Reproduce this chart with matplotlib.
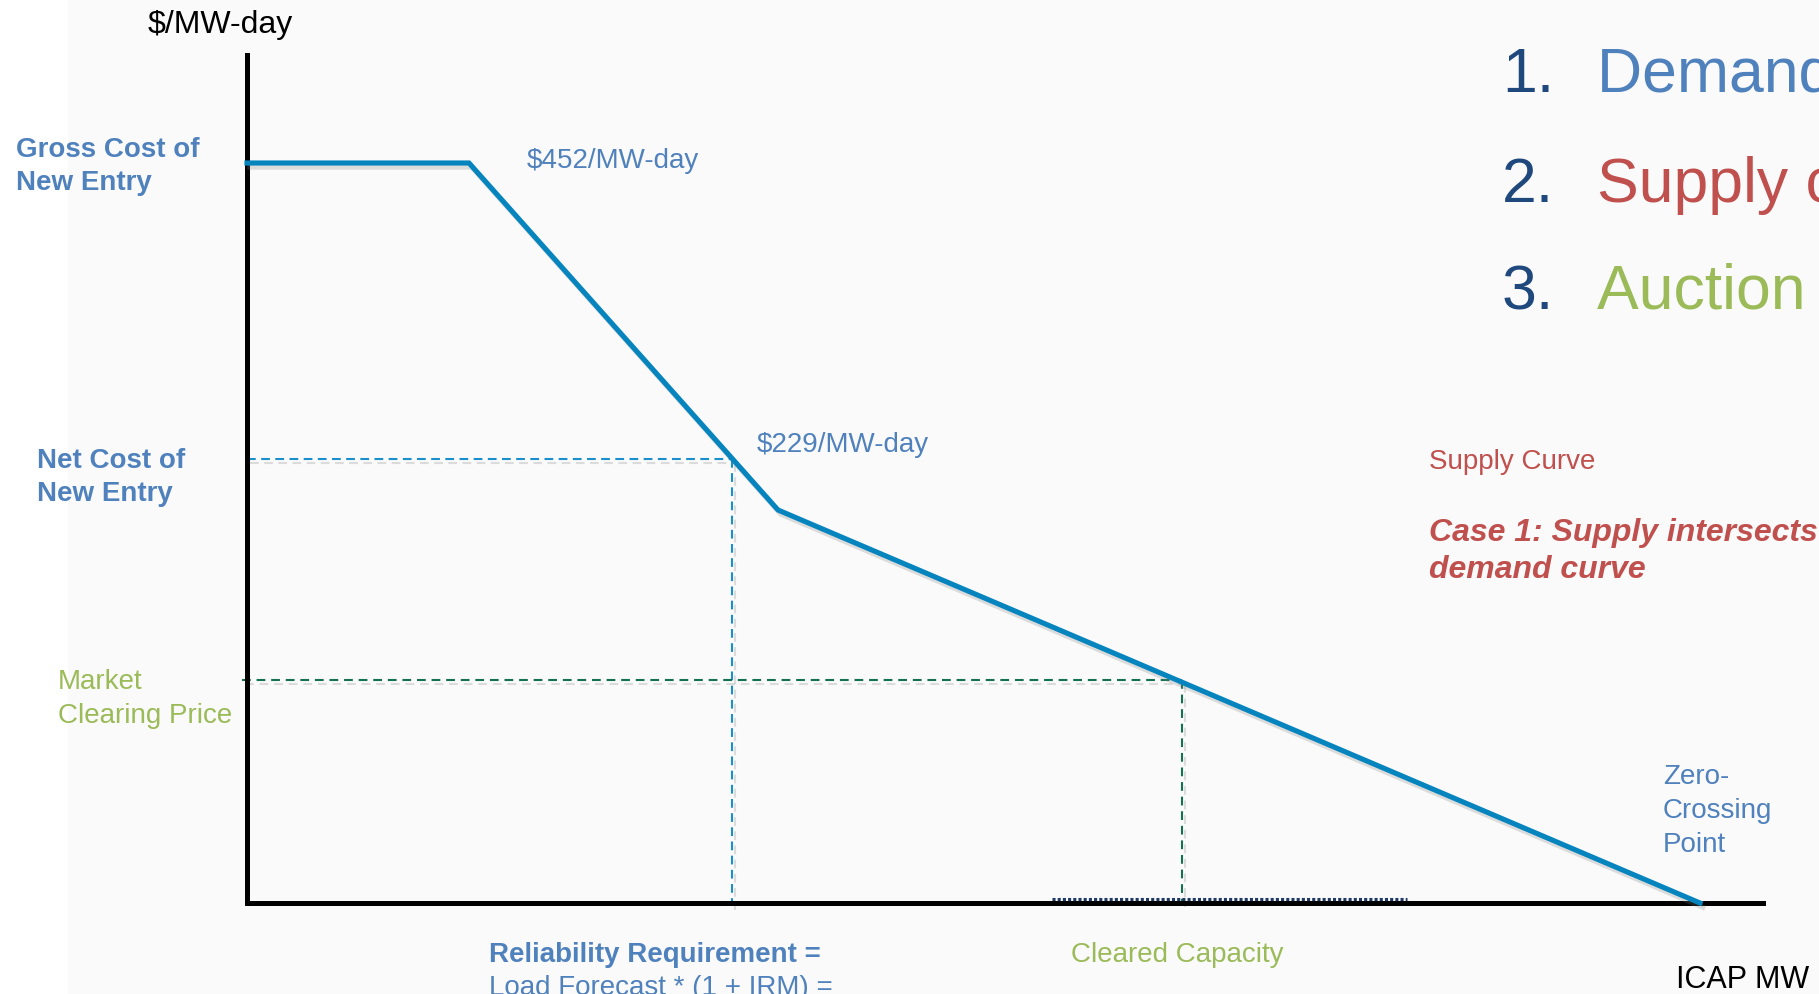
import matplotlib
matplotlib.use('Agg')
import matplotlib.pyplot as plt
import matplotlib.patheffects as pe
from matplotlib.patches import Rectangle

plt.rcParams['font.family'] = ['Liberation Sans', 'DejaVu Sans']

# schematic demand curve (x: ICAP MW, y: $/MW-day, arbitrary schematic units)
demand_mw = [0, 222, 531, 1453]
demand_price = [740, 740, 393, 0]

net_cone_mw, net_cone_price = 485, 444
clear_mw, clear_price = 935, 223
cleared_band = [805, 1160]

list_nums = ['1.', '2.', '3.']
list_words = ['Demand curve', 'Supply curve', 'Auction clearing']

W, H = 1819, 994
BLUE = '#4F81BD'
RED = '#C0504D'
GREEN = '#9BBB59'
NAVY = '#1F497D'
LINE = '#0584BE'

fig = plt.figure(figsize=(W / 100, H / 100), dpi=100, facecolor='#FAFAFA')
fig.patches.append(Rectangle((0, 0), 68 / W, 1, transform=fig.transFigure,
                             facecolor='white', edgecolor='none', zorder=-1))

ax = fig.add_axes([247 / W, (H - 903) / H, 1516 / W, 848 / H])
ax.set_xlim(0, 1516)
ax.set_ylim(0, 848)
ax.set_facecolor('none')
ax.set_xticks([])
ax.set_yticks([])
for s in ['top', 'right']:
    ax.spines[s].set_visible(False)
shadow = [pe.SimpleLineShadow(offset=(2, -3), shadow_color='gray', alpha=0.25), pe.Normal()]
for s in ['left', 'bottom']:
    ax.spines[s].set_linewidth(3.6)
    ax.spines[s].set_color('black')
    ax.spines[s].set_zorder(3)

# demand curve
ax.plot(demand_mw, demand_price, color=LINE, lw=3.7, solid_joinstyle='miter',
        path_effects=shadow, zorder=4, clip_on=False)

# net CONE guides
ax.plot([0, net_cone_mw], [net_cone_price, net_cone_price], color='#1B8FCB', lw=1.5,
        dashes=(4.2, 2.6), path_effects=shadow, clip_on=False)
ax.plot([net_cone_mw, net_cone_mw], [net_cone_price, -3], color='#1B8FCB', lw=1.5,
        dashes=(4.2, 2.6), path_effects=shadow, clip_on=False)

# market clearing guides
ax.plot([-5, clear_mw], [clear_price, clear_price], color='#137050', lw=1.5,
        dashes=(4.2, 2.8), path_effects=shadow, clip_on=False)
ax.plot([clear_mw, clear_mw], [clear_price, 0], color='#137050', lw=1.5,
        dashes=(4.2, 2.8), path_effects=shadow, clip_on=False)

# cleared capacity band on the axis
ax.plot(cleared_band, [4, 4], color='#1F3864', lw=2.2, dashes=(1.0, 0.7), zorder=5, clip_on=False)


def ftext(x, y, s, **kw):
    fig.text(x / W, 1 - y / H, s, va='baseline', ha='left', **kw)


def lines(x, y0, step, texts, **kw):
    for i, t in enumerate(texts):
        ftext(x, y0 + i * step, t, **kw)


ftext(148, 33, '$/MW-day', fontsize=23, color='black')
ftext(1676, 988, 'ICAP MW', fontsize=22, color='black')

lines(16, 157, 33, ['Gross Cost of', 'New Entry'], fontsize=20, color=BLUE, fontweight='bold')
lines(37, 468, 33, ['Net Cost of', 'New Entry'], fontsize=20, color=BLUE, fontweight='bold')
lines(58, 689, 34, ['Market', 'Clearing Price'], fontsize=20, color=GREEN)

ftext(527, 168, '$452/MW-day', fontsize=20, color=BLUE)
ftext(757, 452, '$229/MW-day', fontsize=20, color=BLUE)

lines(1663, 784, 34, ['Zero-', 'Crossing', 'Point'], fontsize=20, color=BLUE)

ftext(1429, 469, 'Supply Curve', fontsize=20, color=RED)
lines(1429, 541, 37, ['Case 1: Supply intersects', 'demand curve'], fontsize=23,
      color=RED, fontweight='bold', fontstyle='italic')

ftext(489, 962, 'Reliability Requirement =', fontsize=20, color=BLUE, fontweight='bold')
ftext(489, 995, 'Load Forecast * (1 + IRM) =', fontsize=20, color=BLUE)
ftext(1071, 962, 'Cleared Capacity', fontsize=20, color=GREEN)

word_colors = [BLUE, RED, GREEN]
for i, (n, w) in enumerate(zip(list_nums, list_words)):
    y = [92, 202, 309][i]
    ftext(1502, y, n, fontsize=45, color=NAVY)
    ftext(1597, y, w, fontsize=45, color=word_colors[i])

fig.savefig('out.png', dpi=100, facecolor=fig.get_facecolor())
